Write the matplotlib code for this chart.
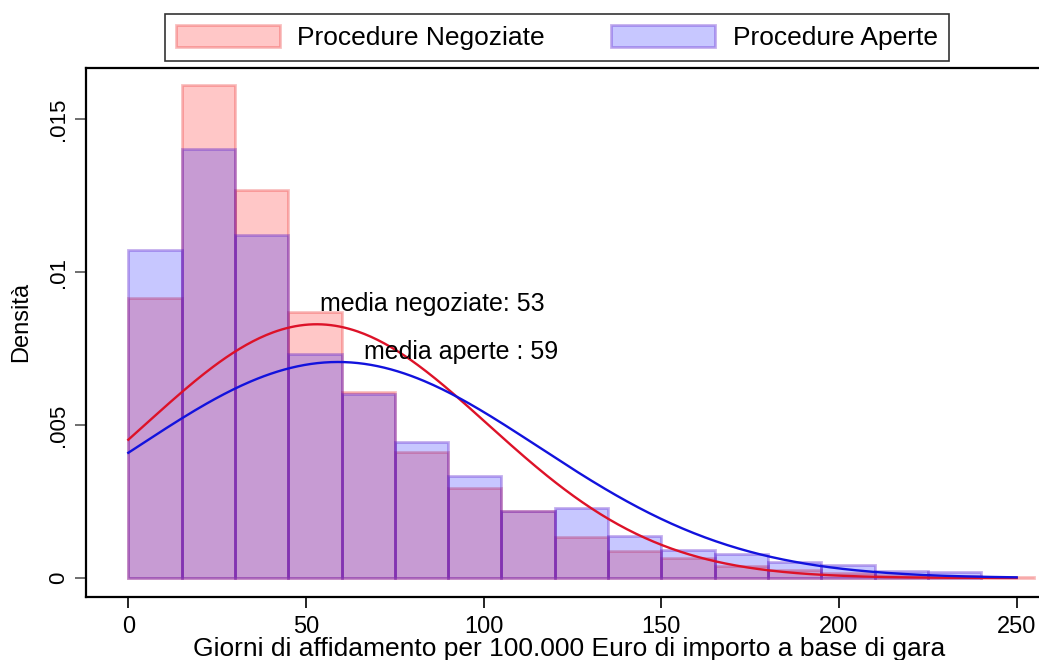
import numpy as np
import matplotlib
matplotlib.use("Agg")
import matplotlib.pyplot as plt

plt.rcParams['font.family'] = ['Liberation Sans', 'DejaVu Sans']

# bin edges (width 15) and densities
edges_neg = np.arange(0, 256, 15)
dens_neg = [0.00916, 0.01612, 0.01268, 0.00868, 0.00609, 0.00413, 0.00293, 0.00219,
            0.00135, 0.00088, 0.00064, 0.00040, 0.00026, 0.00015, 0.00010, 0.00007, 0.00004]
edges_ape = np.arange(0, 241, 15)
dens_ape = [0.01072, 0.01402, 0.01121, 0.00732, 0.00600, 0.00444, 0.00334, 0.00219,
            0.00228, 0.00137, 0.00092, 0.00077, 0.00053, 0.00042, 0.00023, 0.00021]

# normal fits
mean_neg, sd_neg = 53, 48.1
mean_ape, sd_ape = 59, 56.5

labels = ["Procedure Negoziate", "Procedure Aperte"]


def normal_pdf(x, m, s):
    return np.exp(-(x - m) ** 2 / (2 * s ** 2)) / (s * np.sqrt(2 * np.pi))


fig = plt.figure(figsize=(10.39, 6.6), dpi=100)
ax = fig.add_axes([86 / 1039, 63 / 660, 952 / 1039, 529 / 660])

ax.bar(edges_neg[:-1], dens_neg, width=15, align='edge',
       facecolor=(1, 0, 0, 0.22), edgecolor=(0.9, 0, 0, 0.25), linewidth=2,
       label=labels[0])
ax.bar(edges_ape[:-1], dens_ape, width=15, align='edge',
       facecolor=(0, 0, 1, 0.22), edgecolor=(0.35, 0.1, 0.8, 0.35), linewidth=2,
       label=labels[1])

xs = np.linspace(0, 250, 400)
ax.plot(xs, normal_pdf(xs, mean_neg, sd_neg), color='#dd1228', linewidth=1.7)
ax.plot(xs, normal_pdf(xs, mean_ape, sd_ape), color='#1212dd', linewidth=1.7)

ax.text(54.0, 0.00895, "media negoziate: 53", fontsize=18, va='center')
ax.text(66.2, 0.00740, "media aperte : 59", fontsize=18, va='center')

ax.set_xlim(-11.9, 256)
ax.set_ylim(-0.00062, 0.01667)
ax.set_xticks([0, 50, 100, 150, 200, 250])
ax.set_yticks([0, 0.005, 0.01, 0.015])
ax.set_yticklabels(["0", ".005", ".01", ".015"], rotation=90, va='center')
ax.tick_params(axis='x', labelsize=17, length=8, width=1.2, direction='out', pad=6)
ax.tick_params(axis='y', labelsize=16, length=8, width=1.2, direction='out',
               pad=4, color='#555555')

ax.spines['right'].set_visible(False)
for s in ['left', 'bottom', 'top']:
    ax.spines[s].set_linewidth(1.6)

ax.set_xlabel("Giorni di affidamento per 100.000 Euro di importo a base di gara",
              fontsize=19)
ax.xaxis.set_label_coords(0.508, -0.0756)
ax.set_ylabel("Densità", fontsize=17)
ax.yaxis.set_label_coords(-0.057, 0.52)

leg = fig.legend(loc='upper left', bbox_to_anchor=(165 / 1039, 1 - 14 / 660), ncol=2,
                 fontsize=19, frameon=True, fancybox=False, edgecolor='black',
                 handlelength=3.94, handleheight=0.95, handletextpad=0.68,
                 columnspacing=2.5, borderpad=0.4, borderaxespad=0)
leg.get_frame().set_linewidth(1.2)

fig.savefig("out.png", dpi=100)
